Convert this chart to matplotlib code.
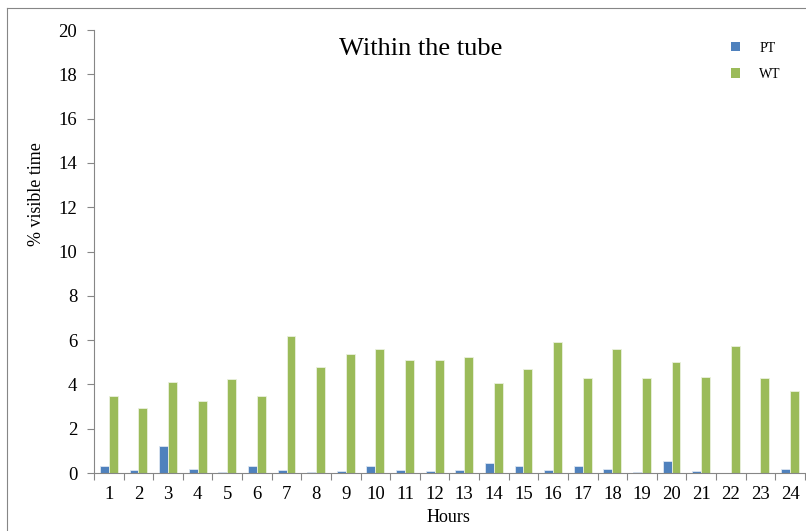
import matplotlib
matplotlib.use('Agg')
import numpy as np
import matplotlib.pyplot as plt
import matplotlib.patches as patches
from matplotlib.lines import Line2D

hours = [str(h) for h in range(1, 25)]
pt = [0.33, 0.15, 1.23, 0.20, 0.05, 0.33, 0.15, 0.05, 0.11, 0.33, 0.15, 0.11,
      0.15, 0.45, 0.30, 0.15, 0.30, 0.20, 0.05, 0.53, 0.11, 0.0, 0.0, 0.20]
wt = [3.46, 2.92, 4.11, 3.26, 4.26, 3.47, 6.20, 4.78, 5.38, 5.59, 5.08, 5.11,
      5.25, 4.08, 4.68, 5.91, 4.30, 5.61, 4.30, 5.02, 4.35, 5.73, 4.27, 3.71]

blue = '#4f81bd'
green = '#9bbb59'
plt.rcParams['font.family'] = 'Liberation Serif'

fig = plt.figure(figsize=(8.06, 5.31), dpi=100)
ax = fig.add_axes([0.1166, 0.1092, 0.882, 0.8343])

x = np.arange(len(hours))
w = 0.3
ax.bar(x - w / 2, pt, w, color=blue, edgecolor='#dce6f2', linewidth=0.6, label='PT')
ax.bar(x + w / 2, wt, w, color=green, edgecolor='#ebf1de', linewidth=0.6, label='WT')

ax.set_xlim(-0.5, len(hours) - 0.5)
ax.set_ylim(0, 20)
ax.set_yticks(range(0, 21, 2))
ax.set_xticks(np.arange(-0.5, len(hours), 1))
ax.set_xticklabels([])
ax.set_xticks(x, minor=True)
ax.set_xticklabels(hours, minor=True)
ax.tick_params(axis='x', which='major', length=5, color='#868686', width=0.8)
ax.tick_params(axis='x', which='minor', length=0, pad=9, labelsize=13.5)
ax.tick_params(axis='y', length=5, color='#868686', width=0.8, labelsize=13.5, pad=7)

for side in ['top', 'right']:
    ax.spines[side].set_visible(False)
for side in ['left', 'bottom']:
    ax.spines[side].set_color('#868686')
    ax.spines[side].set_linewidth(0.8)

fig.text(0.522, 0.908, 'Within the tube', ha='center', va='center', fontsize=19)
fig.text(0.556, 0.026, 'Hours', ha='center', va='center', fontsize=13)
fig.text(0.045, 0.635, '% visible time', ha='center', va='center', rotation=90, fontsize=13)

handles = [patches.Patch(facecolor=blue, edgecolor='none'),
           patches.Patch(facecolor=green, edgecolor='none')]
ax.legend(handles, ['PT', 'WT'], loc='upper left', bbox_to_anchor=(0.892, 0.945),
          bbox_transform=fig.transFigure, frameon=False, fontsize=10,
          handlelength=0.65, handleheight=0.65, handletextpad=1.35, labelspacing=0.95)

# outer chart border (top and left visible)
fig.add_artist(Line2D([0.0087, 0.0087], [0, 0.985], color='#868686', lw=0.8, transform=fig.transFigure))
fig.add_artist(Line2D([0.0087, 1], [0.985, 0.985], color='#868686', lw=0.8, transform=fig.transFigure))

fig.savefig('out.png', dpi=100)
plt.close(fig)
